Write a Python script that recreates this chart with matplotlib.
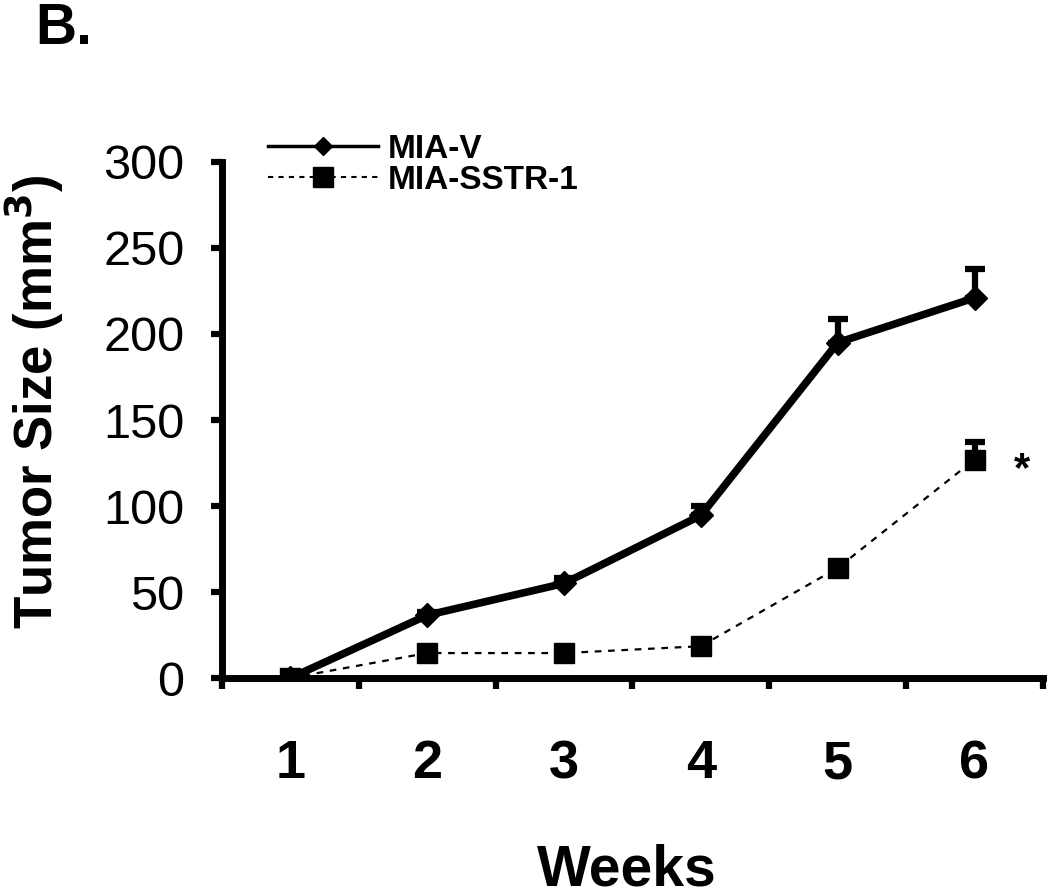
import numpy as np
import matplotlib.pyplot as plt
from matplotlib.lines import Line2D

plt.rcParams['font.family'] = ['Liberation Sans', 'DejaVu Sans']

# Datos
semanas = [1, 2, 3, 4, 5, 6]
mia_v = [0, 36.5, 55, 94.5, 195, 221]
mia_v_err = [0, 2, 3, 5.5, 14, 17]
mia_sstr = [0, 14.5, 14.5, 18.5, 64, 127]
mia_sstr_err = [0, 1, 1, 1.5, 2, 10]
yticks = [0, 50, 100, 150, 200, 250, 300]

fig = plt.figure(figsize=(10.5, 8.96), dpi=100)
ax = fig.add_axes([0.2114, 0.2433, 0.7819, 0.5759])

ax.errorbar(semanas, mia_v, yerr=[np.zeros(6), mia_v_err], color='black', lw=5.5,
            marker='D', ms=12.5, elinewidth=4.5, capsize=7.5, capthick=4.5, zorder=3)
ax.errorbar(semanas, mia_sstr, yerr=[np.zeros(6), mia_sstr_err], color='black', lw=1.6,
            ls=(0, (3, 3)), marker='s', ms=15, elinewidth=4.5, capsize=7.5, capthick=4.5, zorder=3)

ax.text(6.35, 121, '*', fontsize=30, fontweight='bold', ha='center', va='center')

ax.set_xlim(0.5, 6.5)
ax.set_ylim(0, 300)
ax.set_yticks(yticks)
ax.set_yticklabels([str(v) for v in yticks], fontsize=35)
ax.set_xticks(np.arange(0.5, 7.0, 1.0))
ax.set_xticklabels([])
ax.set_xticks(semanas, minor=True)
ax.set_xticklabels([str(s) for s in semanas], minor=True, fontsize=39, fontweight='bold')
ax.tick_params(axis='x', which='minor', length=0, pad=44)
ax.tick_params(axis='both', which='major', length=8, width=4.5, direction='out')
ax.tick_params(axis='y', pad=19)

for s in ['top', 'right']:
    ax.spines[s].set_visible(False)
for s in ['left', 'bottom']:
    ax.spines[s].set_linewidth(5)

ax.set_ylabel('Tumor Size (mm$^\\mathbf{3}$)', fontsize=38, fontweight='bold')
ax.yaxis.set_label_coords(-0.19, 0.535)
ax.set_xlabel('Weeks', fontsize=41, fontweight='bold')
ax.xaxis.set_label_coords(0.493, -0.32)

handles = [Line2D([], [], color='black', lw=2.5, marker='D', ms=9.5),
           Line2D([], [], color='black', lw=1.5, ls=(0, (2.5, 2.5)), marker='s', ms=14)]
fig.legend(handles, ['MIA-V', 'MIA-SSTR-1'], loc='upper left',
           bbox_to_anchor=(268 / 1050, 0.851), frameon=False, handlelength=3.3,
           prop={'size': 24, 'weight': 'bold'}, labelspacing=0.0, handletextpad=0.3,
           borderpad=0, borderaxespad=0)

fig.text(0.034, 0.998, 'B.', fontsize=41, fontweight='bold', va='top')

fig.savefig('out.png', dpi=100)
